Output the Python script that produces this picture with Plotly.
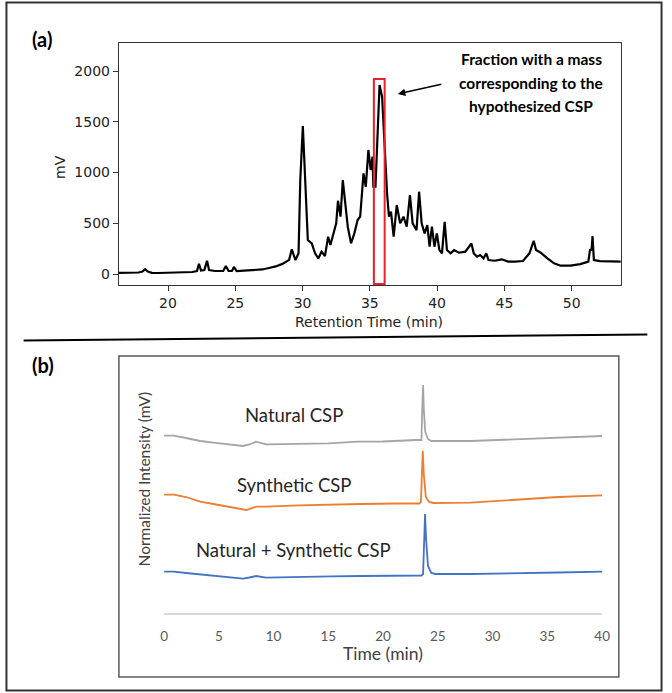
import plotly.graph_objects as go

W, H = 672, 693

# ---------------- Panel (a) data: retention time (min) vs mV ----------------
rt = [16.35, 17.0, 17.8, 18.1, 18.3, 18.5, 18.8, 19.3, 20.0, 21.0,
      21.8, 22.15, 22.3, 22.45, 22.7, 22.9, 23.05, 23.5, 24.1, 24.3,
      24.5, 24.75, 24.9, 25.1, 26.0, 27.0, 27.5, 28.0, 28.5, 29.0,
      29.2, 29.47, 29.7, 29.83, 30.02, 30.2, 30.39, 30.68, 30.93, 31.17,
      31.41, 31.66, 31.9, 32.07, 32.34, 32.5, 32.63, 32.82, 32.99, 33.16,
      33.36, 33.6, 33.85, 34.09, 34.28, 34.53, 34.7, 34.89, 35.06, 35.2,
      35.26, 35.42, 35.55, 35.72, 35.91, 36.08, 36.28, 36.42, 36.57, 36.77,
      37.0, 37.25, 37.5, 37.74, 37.98, 38.18, 38.47, 38.66, 38.85, 39.07,
      39.27, 39.44, 39.61, 39.8, 39.98, 40.17, 40.36, 40.56, 40.73, 41.0,
      41.26, 41.62, 42.1, 42.55, 42.72, 42.97, 43.2, 43.45, 43.65, 43.82,
      44.3, 44.8, 45.28, 45.77, 46.38, 46.86, 47.18, 47.35, 47.7, 48.2,
      48.69, 49.18, 49.9, 50.64, 51.24, 51.36, 51.48, 51.55, 51.65, 52.1,
      53.65]
mv = [12, 12, 15, 25, 48, 25, 12, 10, 12, 15,
      20, 30, 100, 35, 40, 130, 40, 30, 30, 80,
      30, 30, 70, 28, 35, 45, 60, 75, 100, 140,
      243, 138, 205, 926, 1458, 959, 335, 302, 204, 154,
      220, 177, 368, 286, 433, 499, 722, 565, 926, 696,
      466, 302, 401, 532, 565, 992, 860, 1222, 1025, 1156,
      860, 860, 1287, 1862, 1747, 1287, 795, 565, 614, 368,
      680, 499, 565, 466, 778, 499, 433, 811, 499, 401,
      483, 269, 466, 269, 401, 236, 204, 515, 236, 204,
      236, 210, 220, 302, 204, 171, 187, 154, 204, 138,
      131, 145, 122, 122, 128, 204, 328, 236, 210, 154,
      105, 82, 82, 98, 122, 236, 240, 374, 138, 128,
      122]
a_xticks = [20, 25, 30, 35, 40, 45, 50]
a_yticks = [0, 500, 1000, 1500, 2000]
fraction_box = [35.3, 36.1, -98, 1921]   # x0, x1, y0, y1 of highlighted fraction

# ---------------- Panel (b) data: time (min) vs normalized intensity ----------------
nat_t = [0, 0.9, 2, 3.3, 4.5, 6, 7.2, 7.8, 8.4, 9.3, 10.5, 12.3, 15, 17.7, 20,
         23.0, 23.5, 23.6, 23.65, 23.72, 23.85, 24.1, 24.4, 28, 32, 36, 40]
nat_y = [177.3, 177.3, 175, 172, 170.3, 168.5, 167, 168.5, 171.3, 168.7, 169, 169.3, 169.7, 171.3, 171.5,
         173, 173, 213, 228, 203, 181, 174, 172, 172, 173.5, 175.5, 177]
syn_t = [0, 0.9, 2, 3.3, 5, 6.5, 7.5, 8.4, 9.3, 12.3, 15.3, 18, 21, 23.3,
         23.45, 23.55, 23.62, 23.72, 23.9, 24.2, 24.6, 28, 32, 36, 40]
syn_y = [118.3, 118.3, 116, 111.3, 108, 105, 103, 106.3, 106.3, 107.7, 108, 109, 109.5, 109.5,
         111, 143, 162.3, 138, 116, 111, 110, 110.3, 113, 116, 117.7]
mix_t = [0, 0.9, 2, 4.5, 6, 7.2, 7.8, 8.4, 9.3, 12.3, 15.3, 18, 21, 23.5,
         23.65, 23.75, 23.83, 23.93, 24.1, 24.4, 24.8, 28, 32, 36, 40]
mix_y = [41.3, 41.3, 40, 37, 35.5, 34.3, 35.5, 37, 35.3, 36.3, 36.7, 37, 37.5, 37.5,
         39, 73, 99, 73, 47, 40, 39, 39, 39.5, 40.5, 41.3]
b_xticks = [0, 5, 10, 15, 20, 25, 30, 35, 40]
b_labels = ["Natural CSP", "Synthetic CSP", "Natural + Synthetic CSP"]


def px(x):
    return x / W


def py(y):
    return 1 - y / H


fig = go.Figure()

fig.add_trace(go.Scatter(x=rt, y=mv, mode="lines", line=dict(color="black", width=2.2),
                         xaxis="x", yaxis="y", showlegend=False, hoverinfo="skip"))

for t, y, c in [(nat_t, nat_y, "#A5A5A5"), (syn_t, syn_y, "#ED7D31"), (mix_t, mix_y, "#4472C4")]:
    fig.add_trace(go.Scatter(x=t, y=y, mode="lines", line=dict(color=c, width=1.8),
                             xaxis="x2", yaxis="y2", showlegend=False, hoverinfo="skip"))

dj = "DejaVu Sans"
cal = "Lato"

fig.update_layout(
    width=W, height=H, margin=dict(l=0, r=0, t=0, b=0),
    paper_bgcolor="white", plot_bgcolor="white",
    xaxis=dict(domain=[px(117), px(628)], anchor="y", range=[16.35, 53.65],
               tickvals=a_xticks, ticks="outside", ticklen=5, tickcolor="#333",
               showline=True, mirror=True, linecolor="#333", linewidth=1.2,
               showgrid=False, zeroline=False, tickfont=dict(family=dj, size=14, color="#222")),
    yaxis=dict(domain=[py(285), py(43)], anchor="x", range=[-108, 2276],
               tickvals=a_yticks, ticks="outside", ticklen=5, tickcolor="#333",
               showline=True, mirror=True, linecolor="#333", linewidth=1.2,
               showgrid=False, zeroline=False, tickfont=dict(family=dj, size=14, color="#222")),
    xaxis2=dict(domain=[px(163), px(609)], anchor="y2", range=[0, 40],
                tickvals=b_xticks, ticks="", ticklabelstandoff=10,
                showline=True, linecolor="#D9D9D9", linewidth=1.5,
                showgrid=False, zeroline=False, tickfont=dict(family=cal, size=13.5, color="#595959")),
    yaxis2=dict(domain=[py(613), py(356)], anchor="x2", range=[0, 257], visible=False),
)

shapes = []
# outer frame
shapes.append(dict(type="rect", xref="paper", yref="paper", x0=px(2.5), x1=px(669.5), y0=py(690.5), y1=py(2.5),
                   line=dict(color="#333", width=2)))
# divider line
shapes.append(dict(type="line", xref="paper", yref="paper", x0=px(20), x1=px(655), y0=py(340.5), y1=py(334.5),
                   line=dict(color="black", width=2)))
# panel b box
shapes.append(dict(type="rect", xref="paper", yref="paper", x0=px(117), x1=px(626), y0=py(677), y1=py(356),
                   line=dict(color="#595959", width=1.5)))
# highlighted fraction
shapes.append(dict(type="rect", xref="x", yref="y", x0=fraction_box[0], x1=fraction_box[1],
                   y0=fraction_box[2], y1=fraction_box[3], line=dict(color="#E8202A", width=2)))
fig.update_layout(shapes=shapes)

ann = []
ann.append(dict(text="<b>(a)</b>", x=px(26), y=py(39), xref="paper", yref="paper", xanchor="left", yanchor="middle",
                showarrow=False, font=dict(family=cal, size=20, color="black")))
ann.append(dict(text="<b>(b)</b>", x=px(26), y=py(365), xref="paper", yref="paper", xanchor="left", yanchor="middle",
                showarrow=False, font=dict(family=cal, size=20, color="black")))
for i, line in enumerate(["Fraction with a mass", "corresponding to the", "hypothesized CSP"]):
    ann.append(dict(text="<b>%s</b>" % line, x=px(537), y=py(59 + 23.5 * i), xref="paper", yref="paper",
                    xanchor="center", yanchor="middle", showarrow=False,
                    font=dict(family=cal, size=15.5, color="black")))
# arrow
ann.append(dict(text="", x=px(401), y=py(94), xref="paper", yref="paper", ax=45, ay=-10,
                showarrow=True, arrowhead=2, arrowsize=1, arrowwidth=1.5, arrowcolor="black"))
ann.append(dict(text="Retention Time (min)", x=px(372), y=py(322), xref="paper", yref="paper",
                xanchor="center", yanchor="middle", showarrow=False, font=dict(family=dj, size=14, color="#222")))
ann.append(dict(text="mV", x=px(57), y=py(167), xref="paper", yref="paper", textangle=-90,
                xanchor="center", yanchor="middle", showarrow=False, font=dict(family=dj, size=14, color="#222")))
ann.append(dict(text="Time (min)", x=px(386), y=py(653), xref="paper", yref="paper",
                xanchor="center", yanchor="middle", showarrow=False, font=dict(family=cal, size=17.5, color="#404040")))
ann.append(dict(text="Normalized Intensity (mV)", x=px(143), y=py(479), xref="paper", yref="paper", textangle=-90,
                xanchor="center", yanchor="middle", showarrow=False, font=dict(family=cal, size=15.5, color="#404040")))
for lbl, yy in zip(b_labels, [415, 485, 550]):
    ann.append(dict(text=lbl, x=px(295), y=py(yy), xref="paper", yref="paper",
                    xanchor="center", yanchor="middle", showarrow=False, font=dict(family=cal, size=18.5, color="#262626")))
fig.update_layout(annotations=ann)

fig.write_html("out.html", config={"displayModeBar": False},
               post_script="document.body.style.margin='0';document.body.style.overflow='hidden';")
